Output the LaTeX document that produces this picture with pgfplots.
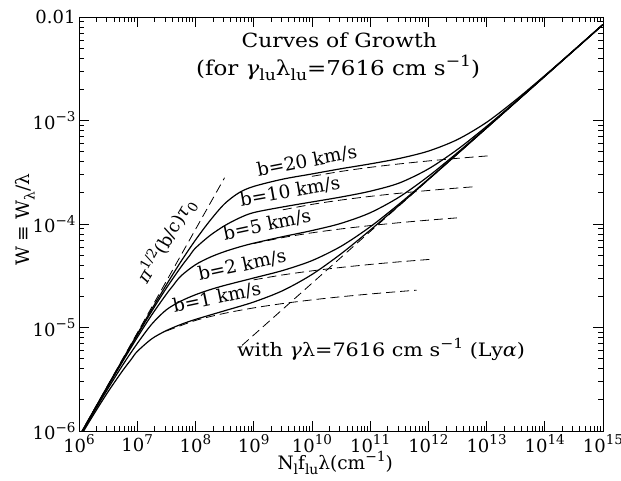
\documentclass[border=0pt]{standalone}
\usepackage{fontspec}
\setmainfont{DejaVu Serif}
\newfontfamily\widefont{DejaVu Serif}[FakeStretch=1.12]
\usepackage{pgfplots}
\pgfplotsset{compat=1.18}
\newcommand{\tsup}[1]{\raisebox{0.42em}{\scalebox{0.75}{#1}}}
\newcommand{\tsub}[1]{\raisebox{-0.28em}{\scalebox{0.75}{#1}}}
\begin{document}
\begin{tikzpicture}
\useasboundingbox (-79pt,-50pt) rectangle (542pt,431pt);
\begin{axis}[
  scale only axis, width=524pt, height=414pt,
  xmode=log, ymode=log,
  xmin=1e6, xmax=1e15, ymin=1e-6, ymax=1e-2,
  xtick={1e6,1e7,1e8,1e9,1e10,1e11,1e12,1e13,1e14,1e15},
  xticklabels={10\tsup{6},10\tsup{7},10\tsup{8},10\tsup{9},10\tsup{10},10\tsup{11},10\tsup{12},10\tsup{13},10\tsup{14},10\tsup{15}},
  ytick={1e-6,1e-5,1e-4,1e-3,1e-2},
  yticklabels={10\tsup{−6},10\tsup{−5},10\tsup{−4},10\tsup{−3},0.01},
  major tick length=10pt, minor tick length=5pt,
  axis line style={line width=0.9pt},
  every tick/.style={black, line width=0.7pt},
  tick label style={font=\fontsize{18}{18}\selectfont},
  xlabel={N\tsub{l}f\tsub{lu}λ(cm\tsup{−1})},
  xlabel style={at={(axis description cs:0.489,-0.077)}, anchor=center, font=\fontsize{18.5}{18.5}\selectfont},
  ylabel={W ≡ W\tsub{λ}/λ},
  ylabel style={at={(axis description cs:-0.103,0.51)}, anchor=center, font=\fontsize{18.5}{18.5}\selectfont},
  every axis plot/.append style={black, line width=1.2pt},
]
% b = 1 km/s
\addplot[smooth] coordinates {(1e6,8.405e-7) (1.7783e6,1.4386e-6) (3.1623e6,2.398e-6) (5.6234e6,3.835e-6) (7.9433e6,4.949e-6) (1e7,5.864e-6) (1.7783e7,7.782e-6) (3.1623e7,9.336e-6) (5.6234e7,1.0702e-5) (1e8,1.1970e-5) (3.1623e8,1.4511e-5) (1e9,1.7626e-5) (3.1623e9,2.2725e-5) (1e10,3.250e-5) (3.1623e10,5.151e-5) (1e11,8.713e-5) (3.1623e11,1.5197e-4) (1e12,2.6836e-4) (3.1623e12,4.760e-4) (1e13,8.458e-4) (3.1623e13,1.504e-3) (1e14,2.6735e-3) (3.1623e14,4.754e-3) (1e15,8.454e-3)};
% b = 2 km/s
\addplot[smooth] coordinates {(1e6,8.622e-7) (1.7783e6,1.5032e-6) (3.1623e6,2.5828e-6) (5.6234e6,4.3324e-6) (1e7,6.998e-6) (1.7783e7,1.0782e-5) (3.1623e7,1.4823e-5) (5.6234e7,1.7999e-5) (1e8,2.0725e-5) (1.7783e8,2.3186e-5) (3.1623e8,2.5493e-5) (1e9,3.0083e-5) (3.1623e9,3.5559e-5) (1e10,4.4251e-5) (3.1623e10,6.0896e-5) (1e11,9.381e-5) (3.1623e11,1.5639e-4) (1e12,2.7117e-4) (3.1623e12,4.7778e-4) (1e13,8.4686e-4) (3.1623e13,1.5043e-3) (1e14,2.6739e-3) (3.1623e14,4.7545e-3) (1e15,8.454e-3)};
% b = 5 km/s
\addplot[smooth] coordinates {(1e6,8.757e-7) (1.7783e6,1.5449e-6) (3.1623e6,2.7083e-6) (5.6234e6,4.6974e-6) (1e7,8.0028e-6) (1.7783e7,1.3246e-5) (3.1623e7,2.0970e-5) (3.9811e7,2.4786e-5) (5.6234e7,3.1444e-5) (1e8,4.0401e-5) (1.7783e8,4.7732e-5) (3.1623e8,5.4118e-5) (5.6234e8,5.989e-5) (1e9,6.5257e-5) (3.1623e9,7.5478e-5) (1e10,8.6410e-5) (3.1623e10,1.01454e-4) (1e11,1.28300e-4) (3.1623e11,1.8220e-4) (1e12,2.8870e-4) (3.1623e12,4.8905e-4) (1e13,8.5390e-4) (3.1623e13,1.5086e-3) (1e14,2.6765e-3) (3.1623e14,4.7560e-3) (1e15,8.4552e-3)};
% b = 10 km/s
\addplot[smooth] coordinates {(1e6,8.803e-7) (1.7783e6,1.5593e-6) (3.1623e6,2.7529e-6) (5.6234e6,4.8331e-6) (1e7,8.4050e-6) (1.7783e7,1.4386e-5) (3.1623e7,2.3976e-5) (5.6234e7,3.8353e-5) (7.9433e7,4.9489e-5) (1e8,5.8551e-5) (1.7783e8,7.7432e-5) (3.1623e8,9.626e-5) (5.6234e8,1.1402e-4) (1e9,1.2894e-4) (3.1623e9,1.4618e-4) (1e10,1.6324e-4) (3.1623e10,1.8224e-4) (1e11,2.0733e-4) (3.1623e11,2.48783e-4) (1e12,3.40419e-4) (3.1623e12,5.24928e-4) (1e13,8.77134e-4) (3.1623e13,1.52312e-3) (1e14,2.68550e-3) (3.1623e14,4.76141e-3) (1e15,8.45844e-3)};
% b = 20 km/s
\addplot[smooth] coordinates {(1e6,8.8266e-7) (1.7783e6,1.5666e-6) (3.1623e6,2.7758e-6) (5.6234e6,4.9040e-6) (1e7,8.6218e-6) (1.7783e7,1.50324e-5) (3.1623e7,2.58282e-5) (5.6234e7,4.33223e-5) (1e8,6.99787e-5) (1.7783e8,1.07790e-4) (3.1623e8,1.5678e-4) (5.6234e8,2.0079e-4) (1e9,2.3067e-4) (3.1623e9,2.7122e-4) (1e10,3.0441e-4) (3.1623e10,3.4202e-4) (1e11,3.8074e-4) (3.1623e11,4.2964e-4) (1e12,5.0608e-4) (3.1623e12,6.5457e-4) (1e13,9.59694e-4) (3.1623e13,1.57700e-3) (1e14,2.71925e-3) (3.1623e14,4.78214e-3) (1e15,8.47103e-3)};
% dashed asymptotes (flat part)
\addplot[smooth, line width=0.8pt, dash pattern=on 9pt off 5pt] coordinates {(3.1623e7,9.247e-6) (1e8,1.1694e-5) (3.1623e8,1.3710e-5) (1e9,1.5467e-5) (3.1623e9,1.7043e-5) (1e10,1.8485e-5) (3.1623e10,1.9822e-5) (1e11,2.1075e-5) (3.1623e11,2.2257e-5) (6.3096e11,2.2938e-5)};
\addplot[smooth, line width=0.8pt, dash pattern=on 9pt off 5pt] coordinates {(1e9,2.887e-5) (3.1623e9,3.2225e-5) (1e10,3.526e-5) (3.1623e10,3.8057e-5) (1e11,4.066e-5) (3.1623e11,4.3107e-5) (1.2589e12,4.587e-5)};
\addplot[smooth, line width=0.8pt, dash pattern=on 9pt off 5pt] coordinates {(1e9,6.4731e-5) (3.1623e9,7.3967e-5) (1e10,8.2169e-5) (3.1623e10,8.9628e-5) (1e11,9.6510e-5) (3.1623e11,1.02933e-4) (1e12,1.08977e-4) (3.1623e12,1.1470e-4)};
\addplot[smooth, line width=0.8pt, dash pattern=on 9pt off 5pt] coordinates {(3.1623e9,1.37104e-4) (1e10,1.54667e-4) (3.1623e10,1.70424e-4) (1e11,1.84847e-4) (3.1623e11,1.98222e-4) (1e12,2.10750e-4) (3.1623e12,2.22571e-4) (6.3096e12,2.29376e-4)};
\addplot[smooth, line width=0.8pt, dash pattern=on 9pt off 5pt] coordinates {(1e10,2.88707e-4) (3.1623e10,3.22249e-4) (1e11,3.52616e-4) (3.1623e11,3.80567e-4) (1e12,4.06598e-4) (3.1623e12,4.31067e-4) (1.2589e13,4.587e-4)};
% linear (optically thin) asymptote
\addplot[line width=0.8pt, dash pattern=on 9pt off 5pt] coordinates {(1e6,8.85e-7) (3.1623e8,2.799e-4)};
% damping asymptote
\addplot[line width=0.8pt, dash pattern=on 9pt off 5pt] coordinates {(6.3096e8,6.714e-6) (1e15,8.454e-3)};
% labels
\node[font=\widefont\fontsize{19.5}{19.5}\selectfont] at (axis cs:2.95e10,6.0e-3) {Curves of Growth};
\node[font=\widefont\fontsize{20.5}{20.5}\selectfont] at (axis cs:2.82e10,3.21e-3) {(for \textit{γ}\tsub{lu}λ\tsub{lu}=7616 cm s\tsup{−1})};
\node[rotate=11, font=\fontsize{18.5}{18.5}\selectfont] at (axis cs:8.24e9,4.05e-4) {b=20 km/s};
\node[rotate=10, font=\fontsize{18.5}{18.5}\selectfont] at (axis cs:4.21e9,2.05e-4) {b=10 km/s};
\node[rotate=12, font=\fontsize{18.5}{18.5}\selectfont] at (axis cs:1.694e9,9.8e-5) {b=5 km/s};
\node[rotate=12, font=\fontsize{18.5}{18.5}\selectfont] at (axis cs:6.31e8,4.0e-5) {b=2 km/s};
\node[rotate=12, font=\fontsize{18.5}{18.5}\selectfont] at (axis cs:2.34e8,1.95e-5) {b=1 km/s};
\node[rotate=60, font=\fontsize{18}{18}\selectfont] at (axis cs:3.12e7,6.85e-5) {\textit{π}\tsup{1/2}(b/c)\textit{τ}\tsub{0}};
\node[font=\widefont\fontsize{18.5}{18.5}\selectfont] at (axis cs:1.54e11,6.19e-6) {with \textit{γ}λ=7616 cm s\tsup{−1} (Ly\textit{α})};
\end{axis}
\end{tikzpicture}
\end{document}
